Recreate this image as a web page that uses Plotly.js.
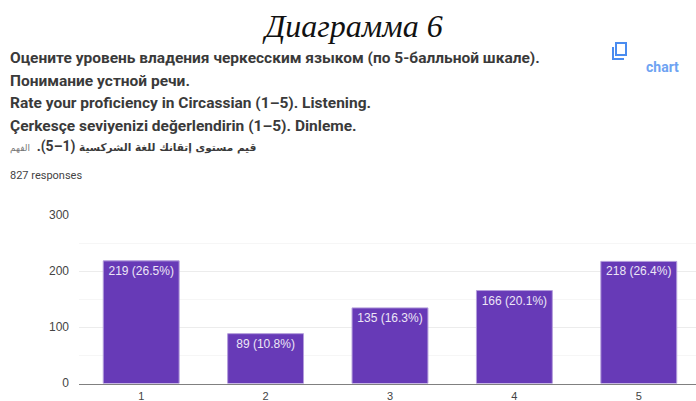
<!DOCTYPE html>
<html><head><meta charset="utf-8">
<script src="https://cdn.plot.ly/plotly-3.0.1.min.js"></script>
<style>html,body{margin:0;padding:0;background:#fff;overflow:hidden}#c{width:696px;height:401px}</style>
</head><body><div id="c"></div>
<script>
const categories = [1, 2, 3, 4, 5];
const counts = [219, 89, 135, 166, 218];
const percents = ["26.5", "10.8", "16.3", "20.1", "26.4"];
const yTicks = [0, 100, 200, 300];
const barLabels = counts.map((c, i) => c + " (" + percents[i] + "%)");
const W = 696, H = 401;
const px = x => x / W, py = y => 1 - y / H;
const sans = "Roboto, 'Liberation Sans', Arial, sans-serif";
function txt(text, x, y, size, color, opts) {
  return Object.assign({text, x: px(x), y: py(y), xref: "paper", yref: "paper", xanchor: "left", yanchor: "middle",
    showarrow: false, align: "left", borderpad: 0,
    font: {family: sans, size, color}}, opts || {});
}
const arabicLine = "<b>قيم مستوى إتقانك للغة الشركسية </b><span style=\"font-family:Roboto;font-size:14px\"><b>(1–5).</b></span>  <span style=\"color:#777;font-size:9px\">الفهم</span>";
const annotations = [
  txt("<i>Диаграмма 6</i>", 352, 26, 32, "#111", {xanchor: "center", font: {family: "'Liberation Serif', serif", size: 32, color: "#111"}}),
  txt("<b>Оцените уровень владения черкесским языком (по 5-балльной шкале).</b>", 9, 58, 15.5, "#3a3a3a"),
  txt("<b>Понимание устной речи.</b>", 9, 81, 15.5, "#3a3a3a"),
  txt("<b>Rate your proficiency in Circassian (1–5). Listening.</b>", 9, 103, 15.5, "#3a3a3a"),
  txt("<b>Çerkesçe seviyenizi değerlendirin (1–5). Dinleme.</b>", 9, 126, 15.5, "#3a3a3a"),
  txt(arabicLine, 9, 147, 10.5, "#3a3a3a", {font: {family: "'DejaVu Sans', sans-serif", size: 10.5, color: "#3a3a3a"}}),
  txt("827 responses", 9, 175, 11, "#444"),
  txt("<b>chart</b>", 645, 67, 14, "#6ea3f2"),
];
const blue = "#4a8cf0";
const shapes = [
  {type: "rect", xref: "paper", yref: "paper", x0: px(616), x1: px(626), y0: py(43), y1: py(55), line: {color: blue, width: 2}, fillcolor: "#fff"},
  {type: "path", xref: "paper", yref: "paper", path:
    `M ${px(613)} ${py(47)} L ${px(613)} ${py(59)} L ${px(624)} ${py(59)}`, line: {color: blue, width: 2}},
];
Plotly.newPlot("c", [{
  type: "bar", x: categories, y: counts, width: 0.61,
  marker: {color: "#673ab7", line: {color: "#b39ddb", width: 1}},
  text: barLabels, textposition: "inside", insidetextanchor: "end", textangle: 0,
  insidetextfont: {family: "'Liberation Sans', Arial, sans-serif", size: 12, color: "#ece6f6"},
  constraintext: "none", cliponaxis: false, hoverinfo: "skip"
}], {
  width: W, height: H, margin: {l: 0, r: 0, t: 0, b: 0, pad: 0},
  paper_bgcolor: "#fff", plot_bgcolor: "#fff", showlegend: false,
  font: {family: "'Liberation Sans', Arial, sans-serif"},
  xaxis: {domain: [79 / W, 1], range: [0.5, 5.46], tickmode: "array", tickvals: categories, ticktext: categories.map(String),
    showgrid: false, zeroline: false, showline: true, linecolor: "#808080", linewidth: 1.5, ticks: "",
    tickfont: {size: 11, color: "#444"}, ticklabelstandoff: 2},
  yaxis: {domain: [py(383.5), py(215.5)], range: [0, 300], tickmode: "array", tickvals: yTicks,
    showgrid: true, gridcolor: "#ececec", gridwidth: 1, zeroline: false, showline: false, ticks: "",
    tickfont: {size: 12, color: "#444"}, ticklabelstandoff: 9, ticklabelshift: -1,
    minor: {dtick: 50, showgrid: true, gridcolor: "#f6f6f6", gridwidth: 1, ticks: ""}},
  annotations, shapes
}, {displayModeBar: false, staticPlot: true});
</script></body></html>
